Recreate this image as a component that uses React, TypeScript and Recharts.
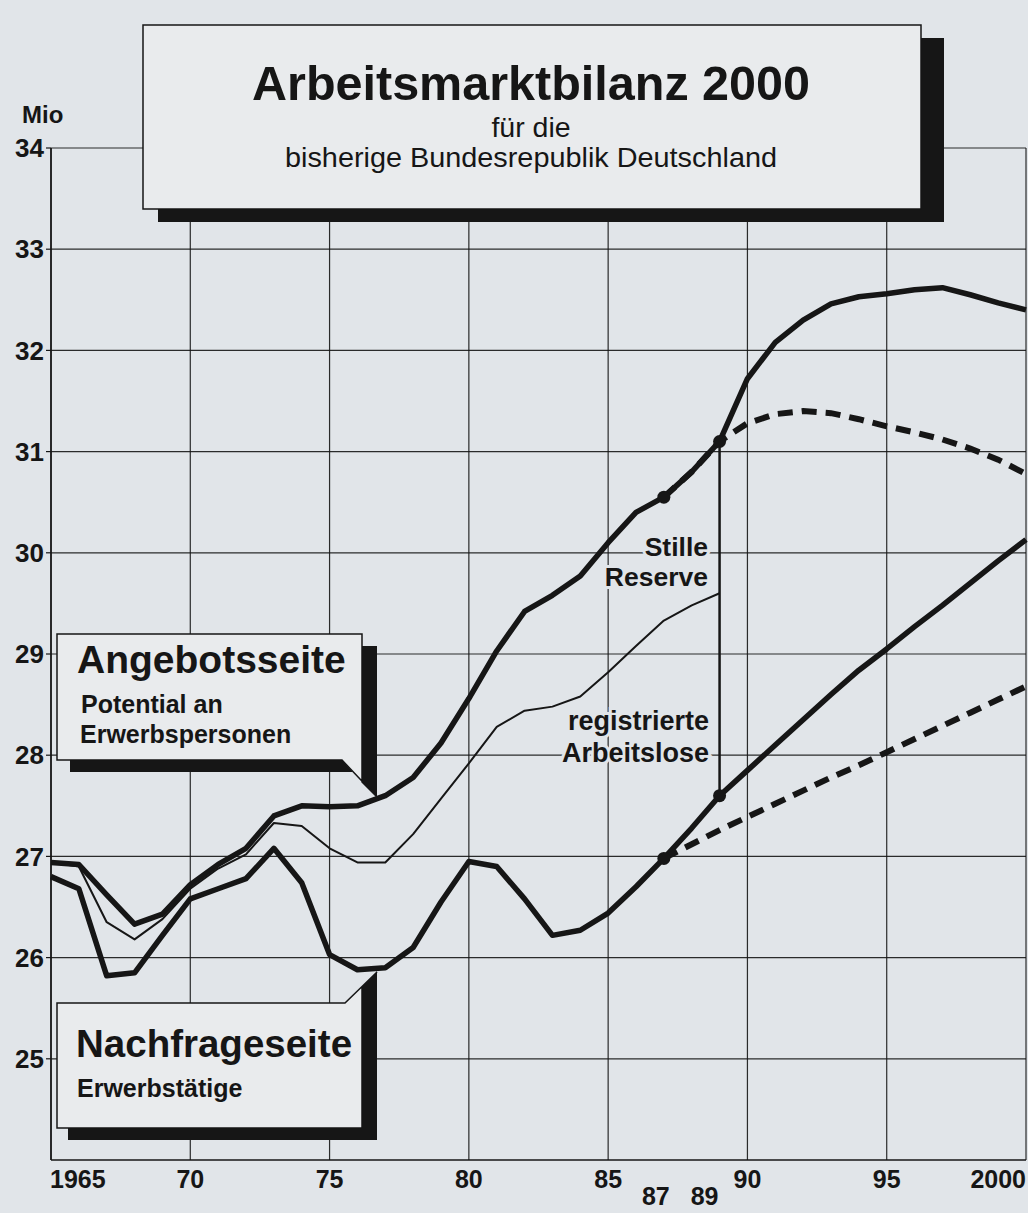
import React from 'react';
import {
  LineChart,
  Line,
  XAxis,
  YAxis,
  CartesianGrid,
  ReferenceLine,
  ReferenceDot,
} from 'recharts';

// Jahre 1965 bis 2000
const years = [
  1965, 1966, 1967, 1968, 1969, 1970, 1971, 1972, 1973, 1974, 1975, 1976,
  1977, 1978, 1979, 1980, 1981, 1982, 1983, 1984, 1985, 1986, 1987, 1988,
  1989, 1990, 1991, 1992, 1993, 1994, 1995, 1996, 1997, 1998, 1999, 2000,
];

// Angebotsseite: Potential an Erwerbspersonen (Mio), 1965-2000
const potential = [
  26.94, 26.92, 26.62, 26.33, 26.43, 26.72, 26.92, 27.08, 27.4, 27.5, 27.49, 27.5,
  27.6, 27.78, 28.12, 28.56, 29.03, 29.42, 29.58, 29.77, 30.1, 30.4, 30.55, 30.8,
  31.1, 31.72, 32.08, 32.3, 32.46, 32.53, 32.56, 32.6, 32.62, 32.55, 32.47, 32.4,
];

// Erwerbstätige + registrierte Arbeitslose, 1965-1989
const erwerbspersonen = [
  26.94, 26.9, 26.35, 26.18, 26.38, 26.68, 26.88, 27.02, 27.33, 27.3, 27.08, 26.94,
  26.94, 27.22, 27.57, 27.92, 28.28, 28.44, 28.48, 28.58, 28.82, 29.08, 29.33, 29.48,
  29.6,
];

// Nachfrageseite: Erwerbstätige (Mio), 1965-2000
const erwerbstaetige = [
  26.8, 26.68, 25.82, 25.85, 26.22, 26.58, 26.68, 26.78, 27.08, 26.74, 26.03, 25.88,
  25.9, 26.1, 26.55, 26.95, 26.9, 26.58, 26.22, 26.27, 26.44, 26.7, 26.98, 27.28,
  27.6, 27.85, 28.1, 28.35, 28.6, 28.84, 29.05, 29.27, 29.48, 29.7, 29.92, 30.13,
];

// Variante (gestrichelt), 1987-2000
const variantStart = 1987;
const potentialVariante = [
  30.55, 30.8, 31.1, 31.28, 31.37, 31.4, 31.38, 31.32, 31.25, 31.19, 31.12, 31.03,
  30.92, 30.78,
];
const erwerbstaetigeVariante = [
  26.98, 27.12, 27.26, 27.39, 27.52, 27.65, 27.78, 27.9, 28.03, 28.16, 28.29, 28.42,
  28.55, 28.68,
];

const xTicks = [1965, 1970, 1975, 1980, 1985, 1987, 1989, 1990, 1995, 2000];
const gridYears = [1965, 1970, 1975, 1980, 1985, 1990, 1995, 2000];
const yTicks = [25, 26, 27, 28, 29, 30, 31, 32, 33, 34];
const markedYears = [1987, 1989];

const INK = '#161616';
const PAPER = '#e1e5e9';
const BOX = '#e9ebed';
const FONT = "'Liberation Sans', Arial, Helvetica, sans-serif";

const data = years.map((year, i) => ({
  year,
  potential: potential[i],
  personen: i < erwerbspersonen.length ? erwerbspersonen[i] : null,
  taetige: erwerbstaetige[i],
  potVar: year >= variantStart ? potentialVariante[year - variantStart] : null,
  taeVar: year >= variantStart ? erwerbstaetigeVariante[year - variantStart] : null,
}));

const valueAt = (arr: number[], year: number) => arr[years.indexOf(year)];

function XTick(props: any) {
  const { x, y, payload } = props;
  const v: number = payload.value;
  const sub = v === 1987 || v === 1989;
  const label = v === 1965 || v === 2000 ? String(v) : String(v).slice(2);
  const anchor = v === 1965 ? 'start' : v === 2000 ? 'end' : 'middle';
  const dx = v === 1987 ? -8 : v === 1989 ? -15 : v === 1965 ? -1 : 0;
  return (
    <text
      x={x + dx}
      y={y + (sub ? 37 : 20)}
      textAnchor={anchor}
      fontFamily={FONT}
      fontWeight="bold"
      fontSize={25}
      fill={INK}
    >
      {label}
    </text>
  );
}

function Overlay() {
  const label = {
    fontFamily: FONT,
    fontWeight: 'bold' as const,
    fill: INK,
  };
  const knock = {
    ...label,
    stroke: PAPER,
    strokeWidth: 6,
    paintOrder: 'stroke' as const,
    textAnchor: 'end' as const,
    fontSize: 26.5,
  };
  return (
    <svg
      width={1028}
      height={1213}
      style={{ position: 'absolute', left: 0, top: 0, pointerEvents: 'none' }}
    >
      {/* Titel */}
      <rect x={921} y={38} width={23} height={184} fill={INK} />
      <rect x={158} y={209} width={786} height={13} fill={INK} />
      <rect x={143} y={25} width={778} height={184} fill={BOX} stroke={INK} strokeWidth={1.5} />
      <text {...label} x={531} y={100} fontSize={48} textAnchor="middle" textLength={558} lengthAdjust="spacingAndGlyphs">
        Arbeitsmarktbilanz 2000
      </text>
      <text x={531} y={137} fontFamily={FONT} fontSize={28.5} fill={INK} textAnchor="middle">
        für die
      </text>
      <text x={531} y={167} fontFamily={FONT} fontSize={28.5} fill={INK} textAnchor="middle" textLength={492} lengthAdjust="spacingAndGlyphs">
        bisherige Bundesrepublik Deutschland
      </text>

      <text {...label} x={22} y={123} fontSize={24}>Mio</text>

      {/* Angebotsseite */}
      <path d="M70,760 H342 L353,772 H70 Z" fill={INK} />
      <path d="M362,646 H377 V797 L362,782 Z" fill={INK} />
      <path d="M57,634 H362 V782 L377,797 L342,760 H57 Z" fill={BOX} stroke={INK} strokeWidth={1.5} strokeLinejoin="miter" />
      <text {...label} x={77} y={673} fontSize={39}>Angebotsseite</text>
      <text {...label} x={81} y={713} fontSize={25}>Potential an</text>
      <text {...label} x={80} y={743} fontSize={25}>Erwerbspersonen</text>

      {/* Nachfrageseite */}
      <path d="M68,1128 H377 V1140 H68 Z" fill={INK} />
      <path d="M362,988 L377,972 V1140 H362 Z" fill={INK} />
      <path d="M57,1128 H362 V988 L377,972 L345,1003 H57 Z" fill={BOX} stroke={INK} strokeWidth={1.5} />
      <text {...label} x={76} y={1057} fontSize={38.5}>Nachfrageseite</text>
      <text {...label} x={77} y={1097} fontSize={25}>Erwerbstätige</text>

      {/* Beschriftung der Differenzen */}
      <text {...knock} x={708} y={556}>Stille</text>
      <text {...knock} x={708} y={586}>Reserve</text>
      <text {...knock} x={709} y={730} fontSize={27}>registrierte</text>
      <text {...knock} x={709} y={762} fontSize={27}>Arbeitslose</text>
    </svg>
  );
}

export default function App() {
  return (
    <div
      style={{
        position: 'absolute',
        left: 0,
        top: 0,
        width: 1028,
        height: 1213,
        background: PAPER,
        overflow: 'hidden',
      }}
    >
      <LineChart
        width={1028}
        height={1213}
        data={data}
        margin={{ top: 148, right: 2, bottom: 0, left: 10 }}
      >
        <CartesianGrid
          stroke={INK}
          strokeWidth={1.2}
          verticalValues={gridYears}
          horizontalValues={yTicks}
          strokeOpacity={0.9}
        />
        <XAxis
          dataKey="year"
          type="number"
          domain={[1965, 2000]}
          ticks={xTicks}
          interval={0}
          height={53}
          tick={<XTick />}
          tickLine={false}
          axisLine={{ stroke: INK, strokeWidth: 1.6 }}
          allowDecimals={false}
        />
        <YAxis
          type="number"
          domain={[24, 34]}
          ticks={yTicks}
          interval={0}
          width={41}
          tickSize={5}
          tickMargin={2}
          tickLine={{ stroke: INK, strokeWidth: 1.2 }}
          axisLine={{ stroke: INK, strokeWidth: 1.6 }}
          tick={{ fontFamily: FONT, fontWeight: 'bold', fontSize: 26, fill: INK }}
        />
        <Line
          dataKey="personen"
          stroke={INK}
          strokeWidth={2}
          dot={false}
          isAnimationActive={false}
          strokeLinejoin="round"
        />
        <Line
          dataKey="potential"
          stroke={INK}
          strokeWidth={5.5}
          dot={false}
          isAnimationActive={false}
          strokeLinejoin="round"
        />
        <Line
          dataKey="taetige"
          stroke={INK}
          strokeWidth={5.5}
          dot={false}
          isAnimationActive={false}
          strokeLinejoin="round"
        />
        <Line
          dataKey="potVar"
          stroke={INK}
          strokeWidth={6}
          strokeDasharray="15 9"
          dot={false}
          isAnimationActive={false}
        />
        <Line
          dataKey="taeVar"
          stroke={INK}
          strokeWidth={6}
          strokeDasharray="15 9"
          dot={false}
          isAnimationActive={false}
        />
        <ReferenceLine
          segment={[
            { x: 1989, y: valueAt(potential, 1989) },
            { x: 1989, y: valueAt(erwerbstaetige, 1989) },
          ]}
          stroke={INK}
          strokeWidth={2.5}
        />
        {markedYears.map((yr) => (
          <ReferenceDot key={'p' + yr} x={yr} y={valueAt(potential, yr)} r={6.5} fill={INK} stroke="none" />
        ))}
        {markedYears.map((yr) => (
          <ReferenceDot key={'t' + yr} x={yr} y={valueAt(erwerbstaetige, yr)} r={6.5} fill={INK} stroke="none" />
        ))}
      </LineChart>
      <Overlay />
    </div>
  );
}
